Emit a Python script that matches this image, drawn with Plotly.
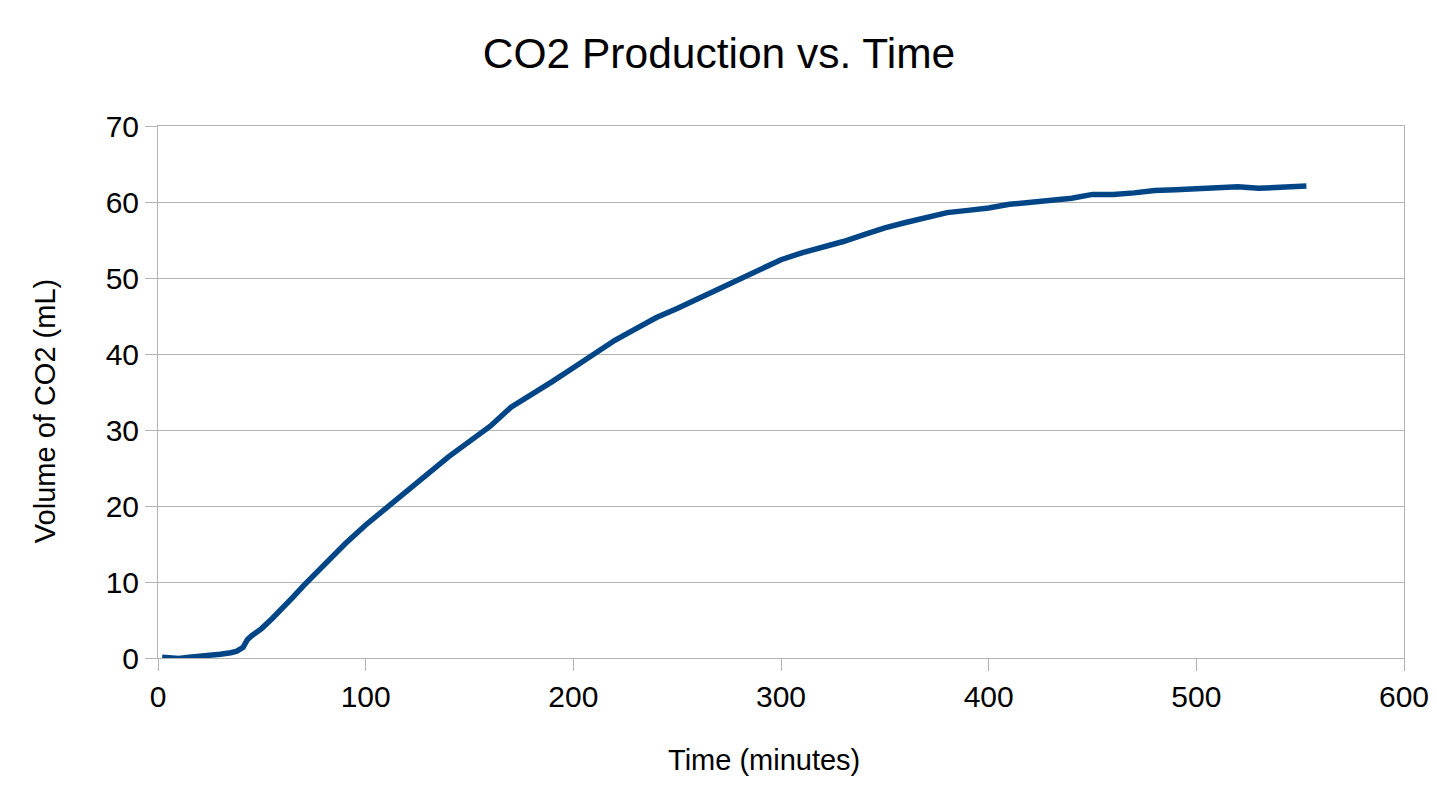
import plotly.graph_objects as go

# time in minutes, CO2 volume in mL
time_min = [2, 6, 10, 15, 20, 25, 30, 35, 38, 41, 43, 45, 50, 55, 60, 65, 70,
            80, 90, 100, 110, 120, 130, 140, 150, 160, 170, 180, 190, 200,
            210, 220, 230, 240, 250, 260, 270, 280, 290, 300, 310, 320, 330,
            340, 350, 360, 370, 380, 390, 400, 410, 420, 430, 440, 450, 460,
            470, 480, 490, 500, 510, 520, 530, 540, 553]
co2_ml = [0.1, 0.0, -0.05, 0.1, 0.2, 0.35, 0.5, 0.7, 0.9, 1.4, 2.4, 2.9, 3.9,
          5.2, 6.5, 8.0, 9.5, 12.3, 15.0, 17.5, 19.8, 22.0, 24.2, 26.5, 28.5,
          30.5, 33.0, 34.6, 36.4, 38.2, 40.0, 41.8, 43.3, 44.8, 46.0, 47.3,
          48.6, 49.8, 51.2, 52.4, 53.3, 54.0, 54.8, 55.7, 56.6, 57.3, 58.0,
          58.6, 58.9, 59.2, 59.7, 60.0, 60.3, 60.5, 61.0, 61.0, 61.2, 61.5,
          61.6, 61.7, 61.8, 62.0, 61.8, 61.9, 62.1]

x_ticks = [0, 100, 200, 300, 400, 500, 600]
y_ticks = [0, 10, 20, 30, 40, 50, 60, 70]

grid = "#b3b3b3"
font = "Liberation Sans, Arial, sans-serif"

fig = go.Figure(
    go.Scatter(
        x=time_min,
        y=co2_ml,
        mode="lines",
        line=dict(color="#004586", width=5.5),
        showlegend=False,
    )
)

fig.update_layout(
    title=dict(
        text="CO2 Production vs. Time",
        x=0.4948,
        xref="container",
        xanchor="center",
        y=0.943,
        yanchor="middle",
        font=dict(family=font, size=42.5, color="black"),
    ),
    width=1437,
    height=800,
    margin=dict(l=150, r=41, t=118, b=150),
    paper_bgcolor="white",
    plot_bgcolor="white",
    font=dict(family=font, color="black"),
    # axis titles placed as annotations so they sit where the original has them
    annotations=[
        dict(
            text="Time (minutes)",
            xref="paper", yref="paper",
            x=0.4864, y=-0.192,
            xanchor="center", yanchor="middle",
            showarrow=False,
            font=dict(size=29),
        ),
        dict(
            text="Volume of CO2 (mL)",
            xref="paper", yref="paper",
            x=-0.0907, y=0.464,
            xanchor="center", yanchor="middle",
            textangle=-90,
            showarrow=False,
            font=dict(size=29),
        ),
    ],
)

fig.update_xaxes(
    range=[0, 600],
    tickvals=x_ticks,
    showgrid=False,
    zeroline=False,
    showline=True,
    mirror=True,
    linecolor=grid,
    linewidth=1,
    ticks="outside",
    ticklen=12,
    tickcolor=grid,
    tickfont=dict(size=30),
)

fig.update_yaxes(
    range=[0, 70],
    tickvals=y_ticks,
    showgrid=True,
    gridcolor=grid,
    zeroline=False,
    showline=True,
    mirror=True,
    linecolor=grid,
    linewidth=1,
    ticks="outside",
    ticklen=12,
    tickcolor=grid,
    tickfont=dict(size=30),
)

fig.write_html("out.html")
